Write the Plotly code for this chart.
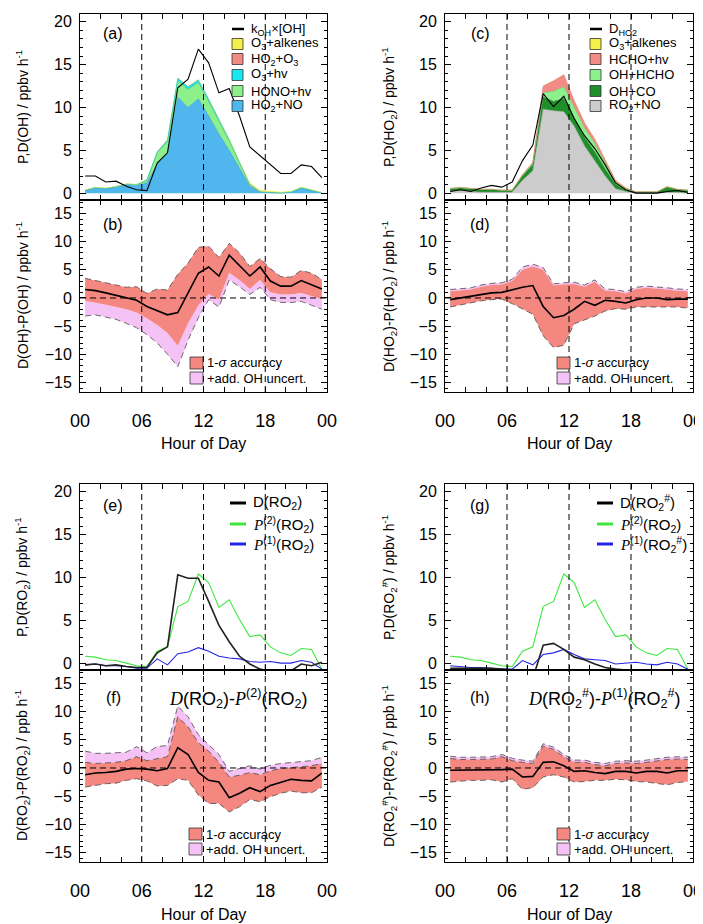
import plotly.graph_objects as go

# The page body has an 8 px margin, so the figure is drawn 8 px in from the
# top-left corner; geometry below is given in window pixels and converted.
OFF = 8
FW, FH = 703 - OFF, 924 - OFF

hours = [h + 0.5 for h in range(24)]
hour_ticks = [0, 6, 12, 18, 24]
hour_labels = ["00", "06", "12", "18", "00"]

# ---------------- (a) OH budget ----------------
a_kOH_OH = [2.0, 2.0, 1.3, 1.4, 0.8, 0.4, 0.3, 3.5, 4.7, 12.3, 13.3, 16.8,
            15.2, 11.7, 12.2, 9.0, 5.4, 4.4, 3.3, 2.3, 2.3, 3.3, 3.1, 1.8]
a_HO2_NO = [0.3, 0.6, 0.5, 0.7, 1.0, 0.9, 1.2, 3.4, 4.6, 11.2, 10.0, 11.0,
            9.0, 6.9, 5.0, 2.9, 0.8, 0.1, 0.05, 0.0, 0.1, 0.6, 0.3, 0.0]
a_HONO_hv = [0.05, 0.05, 0.05, 0.05, 0.05, 0.1, 0.3, 1.3, 1.4, 1.9, 2.1, 1.9,
             1.7, 1.5, 1.1, 0.6, 0.2, 0.05, 0.05, 0.05, 0.05, 0.05, 0.05, 0.05]
a_O3_hv = [0.0, 0.0, 0.0, 0.0, 0.0, 0.0, 0.05, 0.1, 0.2, 0.3, 0.3, 0.3,
           0.25, 0.2, 0.15, 0.1, 0.05, 0.02, 0.0, 0.0, 0.0, 0.0, 0.0, 0.0]
a_HO2_O3 = [0.02, 0.02, 0.02, 0.02, 0.02, 0.02, 0.03, 0.05, 0.05, 0.05, 0.05, 0.05,
            0.05, 0.05, 0.05, 0.05, 0.05, 0.05, 0.03, 0.02, 0.02, 0.02, 0.02, 0.02]
a_O3_alkenes = [0.05, 0.05, 0.05, 0.05, 0.05, 0.05, 0.05, 0.05, 0.05, 0.05, 0.05, 0.05,
                0.05, 0.05, 0.08, 0.1, 0.15, 0.15, 0.12, 0.08, 0.05, 0.05, 0.05, 0.05]

# ---------------- (c) HO2 budget ----------------
c_D_HO2 = [0.2, 0.4, 0.2, 0.6, 0.9, 0.7, 1.3, 3.8, 5.6, 11.6, 10.1, 11.3,
           8.7, 6.7, 5.2, 3.3, 1.2, 0.4, 0.0, 0.0, 0.0, 0.2, 0.3, 0.1]
c_RO2_NO = [0.2, 0.3, 0.2, 0.1, 0.1, 0.1, 0.1, 1.5, 2.6, 9.8, 9.6, 9.5,
            7.8, 5.5, 3.7, 2.0, 0.5, 0.2, 0.0, 0.0, 0.0, 0.1, 0.1, 0.0]
c_OH_CO = [0.3, 0.3, 0.3, 0.3, 0.3, 0.2, 0.2, 0.5, 0.7, 1.4, 1.1, 1.5,
           1.0, 1.0, 1.1, 0.8, 0.5, 0.1, 0.1, 0.1, 0.1, 0.6, 0.3, 0.3]
c_OH_HCHO = [0.05, 0.05, 0.05, 0.05, 0.05, 0.05, 0.05, 0.1, 0.2, 0.5, 1.2, 1.4,
             1.2, 1.1, 1.0, 0.7, 0.3, 0.2, 0.05, 0.05, 0.05, 0.05, 0.05, 0.05]
c_HCHO_hv = [0.0, 0.0, 0.0, 0.0, 0.0, 0.0, 0.0, 0.05, 0.1, 0.8, 1.2, 1.4,
             0.8, 0.6, 0.5, 0.3, 0.2, 0.1, 0.0, 0.0, 0.0, 0.0, 0.0, 0.0]
c_O3_alkenes = [0.03, 0.03, 0.03, 0.03, 0.03, 0.03, 0.03, 0.03, 0.03, 0.03, 0.03, 0.03,
                0.03, 0.03, 0.05, 0.05, 0.05, 0.05, 0.05, 0.03, 0.03, 0.03, 0.03, 0.03]

# ---------------- (b) D(OH)-P(OH) ----------------
b_diff = [1.5, 1.3, 0.9, 0.5, 0.0, -0.4, -1.5, -2.2, -3.0, -2.6, 0.9, 4.4,
          5.5, 3.9, 7.6, 5.8, 3.9, 5.5, 3.0, 2.1, 2.1, 3.1, 2.4, 1.6]
b_sig_hi = [3.5, 3.1, 2.7, 2.3, 1.9, 2.0, 0.8, 1.6, 1.4, 4.2, 6.2, 9.0,
            9.2, 7.2, 9.7, 8.0, 5.6, 7.0, 5.2, 3.8, 3.7, 4.9, 4.4, 3.3]
b_sig_lo = [-0.5, -0.8, -1.2, -1.6, -2.0, -2.6, -3.6, -4.8, -6.2, -8.5, -4.5, -1.3,
            0.7, -0.3, 4.5, 3.2, 1.6, 3.2, 1.0, 0.6, 0.6, 0.9, 0.3, -0.2]
b_ext_lo = [-3.2, -3.0, -3.4, -3.8, -4.5, -5.3, -6.5, -8.0, -10.0, -12.2, -7.5, -3.5,
            -0.3, -1.6, 3.2, 2.0, 0.6, 1.9, -0.3, -0.8, -0.8, -0.6, -1.3, -2.0]

# ---------------- (d) D(HO2)-P(HO2) ----------------
d_diff = [-0.3, 0.0, 0.2, 0.5, 0.9, 1.0, 1.5, 1.9, 2.2, -1.5, -3.5, -3.1,
          -2.0, -0.6, -1.3, -0.4, -0.6, -0.9, -0.3, 0.0, 0.0, -0.3, -0.2, -0.2]
d_sig_hi = [1.2, 1.4, 1.5, 2.0, 2.3, 2.4, 3.0, 5.0, 5.6, 5.0, 2.2, 2.4,
            2.5, 2.0, 2.9, 1.3, 1.2, 0.8, 1.6, 1.8, 1.7, 1.5, 1.3, 1.2]
d_ext_hi = [1.5, 1.7, 1.8, 2.3, 2.6, 2.7, 3.3, 5.5, 6.0, 5.4, 2.5, 2.7,
            2.8, 2.3, 3.2, 1.6, 1.5, 1.1, 1.9, 2.1, 2.0, 1.8, 1.6, 1.5]
d_sig_lo = [-1.6, -1.2, -0.8, -0.5, -0.3, -0.2, -1.0, -2.0, -2.9, -6.7, -8.8, -8.4,
            -4.6, -3.9, -3.2, -2.3, -1.9, -2.0, -1.6, -1.6, -1.6, -1.6, -1.6, -1.8]

# ---------------- (e) RO2 ----------------
e_D_RO2 = [-0.2, -0.1, -0.3, -0.2, -0.4, -0.5, -0.5, 1.2, 1.9, 10.3, 9.9, 9.9,
           7.2, 4.4, 2.5, 0.8, -0.1, -0.7, -1.0, -1.1, -0.9, -0.1, -0.3, 0.1]
e_P2_RO2 = [0.8, 0.7, 0.4, 0.3, 0.0, -0.3, -0.4, 1.4, 1.9, 6.6, 7.2, 10.4,
            9.4, 6.5, 7.4, 5.1, 3.1, 3.3, 1.9, 1.2, 0.9, 1.7, 1.6, -0.7]
e_P1_RO2 = [-0.2, -0.1, -0.3, -0.3, -0.4, -0.6, -0.6, 0.5, -0.2, 1.1, 1.3, 1.8,
            1.4, 0.8, 0.6, 0.5, 0.2, 0.1, 0.2, 0.0, 0.0, 0.3, 0.1, -0.7]

# ---------------- (g) RO2# ----------------
g_D_RO2s = [-0.6, -0.6, -0.6, -0.6, -0.6, -0.7, -0.8, -1.2, -1.8, 2.1, 2.3, 1.6,
            0.7, 0.4, -0.1, -0.5, -0.7, -0.8, -0.8, -0.8, -0.8, -0.8, -0.8, -0.8]
g_P2_RO2 = e_P2_RO2
g_P1_RO2s = [-0.3, -0.4, -0.5, -0.5, -0.6, -0.7, -0.7, 0.3, -0.2, 1.0, 1.2, 1.6,
             1.0, 0.5, 0.4, 0.3, -0.1, 0.0, 0.1, -0.1, -0.2, 0.1, -0.1, -0.7]

# ---------------- (f) D(RO2)-P2(RO2) ----------------
f_diff = [-1.2, -0.9, -0.8, -0.6, -0.2, -0.1, -0.2, -0.5, -0.1, 3.6, 2.4, -0.8,
          -2.2, -2.5, -5.3, -4.5, -3.5, -4.2, -3.1, -2.5, -2.0, -2.2, -2.3, -0.9]
f_sig_hi = [1.0, 0.8, 0.9, 1.0, 1.3, 2.0, 1.3, 1.7, 2.0, 9.1, 7.3, 4.5,
            3.0, 1.0, -1.6, -1.3, -0.8, -1.2, -0.5, -0.1, 0.1, 0.2, 0.4, 0.8]
f_ext_hi = [3.0, 2.6, 2.6, 2.7, 2.8, 3.8, 2.7, 3.8, 4.0, 11.0, 9.1, 5.9,
            4.2, 2.4, -0.6, -0.1, 0.4, -0.2, 0.5, 0.8, 1.0, 1.2, 1.3, 1.9]
f_sig_lo = [-3.4, -3.1, -2.8, -2.7, -2.2, -1.9, -2.3, -3.2, -3.1, -1.9, -2.2, -4.8,
            -6.3, -6.3, -7.8, -6.9, -5.6, -6.0, -5.1, -4.5, -4.1, -4.4, -4.4, -3.4]

# ---------------- (h) D(RO2#)-P1(RO2#) ----------------
h_diff = [-0.4, -0.4, -0.4, -0.4, -0.3, -0.3, -0.2, -1.6, -1.5, 1.0, 1.1, 0.4,
          -0.6, -0.5, -0.8, -1.0, -0.6, -0.6, -0.9, -0.6, -0.6, -0.9, -0.5, -0.5]
h_sig_hi = [1.7, 1.5, 1.5, 1.5, 1.6, 2.0, 1.3, 1.0, 0.8, 3.9, 3.3, 2.0,
            1.0, 1.0, 0.6, 0.4, 0.8, 0.9, 0.8, 1.0, 1.3, 1.5, 1.6, 1.5]
h_ext_hi = [2.1, 1.9, 1.9, 1.9, 2.0, 2.4, 1.7, 1.4, 1.2, 4.3, 3.7, 2.4,
            1.4, 1.4, 1.0, 0.8, 1.2, 1.3, 1.2, 1.4, 1.7, 1.9, 2.0, 1.9]
h_sig_lo = [-2.5, -2.3, -2.2, -2.2, -2.1, -2.5, -1.9, -3.8, -3.5, -1.6, -1.2, -1.6,
            -2.5, -2.4, -2.2, -2.2, -2.0, -2.1, -2.4, -2.5, -2.8, -3.0, -2.6, -2.4]

# ---------------- styling ----------------
FONT = "Liberation Sans, Arial, Helvetica, sans-serif"
C_SALMON = "#f4877f"
C_PINK = "#f5c2f5"
C_EDGE = "#4a4a4a"
DASH = "6px,4px"


def px(x):
    return (x - OFF) / FW


def py(y):
    return 1 - (y - OFF) / FH


COLS = [(80, 327), (445, 693)]
ROWS = [(14, 200), (200, 392), (484, 670), (670, 862)]

# panel index: 1=(a) 2=(c) 3=(b) 4=(d) 5=(e) 6=(g) 7=(f) 8=(h)
panels = {}
k = 1
for r in range(4):
    for c in range(2):
        panels[k] = (r, c)
        k += 1

fig = go.Figure()


def axnames(i):
    s = "" if i == 1 else str(i)
    return "x" + s, "y" + s


def add_line(i, y, color, width=1.0, dash=None):
    xa, ya = axnames(i)
    fig.add_trace(go.Scatter(x=hours, y=y, mode="lines", xaxis=xa, yaxis=ya,
                             line=dict(color=color, width=width, dash=dash),
                             showlegend=False, hoverinfo="skip"))


def add_fill_between(i, lo, hi, color):
    xa, ya = axnames(i)
    fig.add_trace(go.Scatter(x=hours, y=lo, mode="lines", xaxis=xa, yaxis=ya,
                             line=dict(width=0), showlegend=False, hoverinfo="skip"))
    fig.add_trace(go.Scatter(x=hours, y=hi, mode="lines", xaxis=xa, yaxis=ya,
                             fill="tonexty", fillcolor=color, line=dict(width=0),
                             showlegend=False, hoverinfo="skip"))


def add_stack(i, comps, group):
    xa, ya = axnames(i)
    for vals, fillc, edge, ew in comps:
        fig.add_trace(go.Scatter(x=hours, y=vals, mode="lines", xaxis=xa, yaxis=ya,
                                 stackgroup=group, fillcolor=fillc,
                                 line=dict(color=edge, width=ew),
                                 showlegend=False, hoverinfo="skip"))


# (a)
add_stack(1, [(a_HO2_NO, "#4fb6ee", "#2f95d6", 0.6),
              (a_HONO_hv, "#8df08a", "#5cc85a", 0.6),
              (a_O3_hv, "#19e6ee", "#12c4cc", 0.6),
              (a_HO2_O3, "#f28b85", "#f28b85", 0),
              (a_O3_alkenes, "#f4f04a", "#f4f04a", 0)], "a")
add_line(1, a_kOH_OH, "black", 1.1)

# (c)
add_stack(2, [(c_RO2_NO, "#cccccc", "#aaaaaa", 0.6),
              (c_OH_CO, "#1f8f2a", "#16661e", 0.6),
              (c_OH_HCHO, "#8cf08c", "#66cc66", 0.6),
              (c_HCHO_hv, "#f28b85", "#e07a74", 0.6),
              (c_O3_alkenes, "#f4f04a", "#f4f04a", 0)], "c")
add_line(2, c_D_HO2, "black", 1.1)

# (b)
add_fill_between(3, b_ext_lo, b_sig_lo, C_PINK)
add_fill_between(3, b_sig_lo, b_sig_hi, C_SALMON)
add_line(3, b_ext_lo, C_EDGE, 0.8, DASH)
add_line(3, b_sig_hi, C_EDGE, 0.8, DASH)
add_line(3, b_diff, "black", 1.6)

# (d)
add_fill_between(4, d_sig_hi, d_ext_hi, C_PINK)
add_fill_between(4, d_sig_lo, d_sig_hi, C_SALMON)
add_line(4, d_ext_hi, C_EDGE, 0.8, DASH)
add_line(4, d_sig_lo, C_EDGE, 0.8, DASH)
add_line(4, d_diff, "black", 1.6)

# (e)
add_line(5, e_P2_RO2, "#3ee83e", 1.1)
add_line(5, e_P1_RO2, "#2424e6", 1.1)
add_line(5, e_D_RO2, "#222222", 1.6)

# (g)
add_line(6, g_P2_RO2, "#3ee83e", 1.1)
add_line(6, g_P1_RO2s, "#2424e6", 1.1)
add_line(6, g_D_RO2s, "#222222", 1.6)

# (f)
add_fill_between(7, f_sig_hi, f_ext_hi, C_PINK)
add_fill_between(7, f_sig_lo, f_sig_hi, C_SALMON)
add_line(7, f_ext_hi, C_EDGE, 0.8, DASH)
add_line(7, f_sig_hi, C_EDGE, 0.8, DASH)
add_line(7, f_sig_lo, C_EDGE, 0.8, DASH)
add_line(7, f_diff, "black", 1.6)

# (h)
add_fill_between(8, h_sig_hi, h_ext_hi, C_PINK)
add_fill_between(8, h_sig_lo, h_sig_hi, C_SALMON)
add_line(8, h_ext_hi, C_EDGE, 0.8, DASH)
add_line(8, h_sig_hi, C_EDGE, 0.8, DASH)
add_line(8, h_sig_lo, C_EDGE, 0.8, DASH)
add_line(8, h_diff, "black", 1.6)

# ---------------- axes ----------------
layout = dict(width=FW, height=FH, margin=dict(l=0, r=0, t=0, b=0, autoexpand=False),
              paper_bgcolor="white", plot_bgcolor="white",
              font=dict(family=FONT, color="black", size=14), showlegend=False)

TOP_RANGE = [-0.8, 20.9]
BOT_RANGE = [-16.7, 17.4]

for i, (r, c) in panels.items():
    s = "" if i == 1 else str(i)
    xa, ya = axnames(i)
    x0, x1 = COLS[c]
    yt, yb = ROWS[r]
    bottom_row = r in (1, 3)
    layout["xaxis" + s] = dict(
        domain=[px(x0), px(x1)], anchor=ya, range=[0, 24], automargin=False,
        tickmode="array", tickvals=hour_ticks, ticktext=hour_labels,
        ticks="inside", ticklen=5, tickwidth=1, tickcolor="black",
        minor=dict(dtick=2, tick0=0, ticks="inside", ticklen=5, tickcolor="black",
                   showgrid=False),
        showline=True, linecolor="black", linewidth=1, mirror="ticks",
        showgrid=False, zeroline=False, showticklabels=bottom_row,
        ticklabeloverflow="allow",
        ticklabelstandoff=12, tickfont=dict(size=18, family=FONT, color="black"))
    top_panel = r in (0, 2)
    layout["yaxis" + s] = dict(
        domain=[py(yb), py(yt)], anchor=xa, automargin=False,
        range=TOP_RANGE if top_panel else BOT_RANGE,
        tickmode="array",
        tickvals=[0, 5, 10, 15, 20] if top_panel else [-15, -10, -5, 0, 5, 10, 15],
        ticks="inside", ticklen=6, tickwidth=1, tickcolor="black",
        minor=dict(dtick=1, ticks="inside", ticklen=3, tickcolor="black", showgrid=False),
        showline=True, linecolor="black", linewidth=1, mirror="ticks",
        showgrid=False, zeroline=False, ticklabelstandoff=4,
        ticklabeloverflow="allow",
        tickfont=dict(size=16, family=FONT, color="black"))

fig.update_layout(**layout)

# ---------------- reference lines ----------------
shapes = []
for i, (r, c) in panels.items():
    xa, ya = axnames(i)
    for hv in hour_ticks[1:-1]:
        shapes.append(dict(type="line", xref=xa, yref=ya + " domain", x0=hv, x1=hv,
                           y0=0, y1=1, line=dict(color="black", width=1, dash=DASH),
                           layer="above"))
    if r in (1, 3):
        shapes.append(dict(type="line", xref=xa + " domain", yref=ya, x0=0, x1=1,
                           y0=0, y1=0, line=dict(color="black", width=1, dash=DASH),
                           layer="above"))

annotations = []


def text(x, y, t, size=14, anchor="left", family=FONT, angle=0):
    annotations.append(dict(x=px(x), y=py(y), xref="paper", yref="paper", text=t,
                            showarrow=False, xanchor=anchor, yanchor="middle",
                            textangle=angle,
                            font=dict(size=size, family=family, color="black")))


def swatch_box(x0, x1, yc, half, color, edge="#333333"):
    shapes.append(dict(type="rect", xref="paper", yref="paper", x0=px(x0), x1=px(x1),
                       y0=py(yc + half), y1=py(yc - half), fillcolor=color,
                       line=dict(color=edge, width=0.8), layer="above"))


def swatch_line(x0, x1, yc, color, width=2.5):
    shapes.append(dict(type="line", xref="paper", yref="paper", x0=px(x0), x1=px(x1),
                       y0=py(yc), y1=py(yc), line=dict(color=color, width=width),
                       layer="above"))


# panel labels
for lab, x, y in [("(a)", 113, 33), ("(c)", 480, 33), ("(b)", 113, 225), ("(d)", 480, 225),
                  ("(e)", 113, 505), ("(g)", 480, 505), ("(f)", 113, 697), ("(h)", 480, 697)]:
    text(x, y, lab, size=16, anchor="center")

# legend (a)
rows_a = [29, 44, 59, 75, 91, 106]
swatch_line(232, 244, rows_a[0], "black")
for yc, col in zip(rows_a[1:], ["#f4f04a", "#f28b85", "#19e6ee", "#8df08a", "#4fb6ee"]):
    swatch_box(232, 243, yc, 5.5, col)
for yc, t in zip(rows_a, ["k<sub>OH</sub>×[OH]", "O<sub>3</sub>+alkenes",
                          "HO<sub>2</sub>+O<sub>3</sub>", "O<sub>3</sub>+hv", "HONO+hv",
                          "HO<sub>2</sub>+NO"]):
    text(249, yc, t, size=13)

# legend (c)
swatch_line(590, 602, rows_a[0], "black")
for yc, col in zip(rows_a[1:], ["#f4f04a", "#f28b85", "#8cf08c", "#1f8f2a", "#cccccc"]):
    swatch_box(590, 601, yc, 5.5, col)
for yc, t in zip(rows_a, ["D<sub>HO2</sub>", "O<sub>3</sub>+alkenes", "HCHO+hv",
                          "OH+HCHO", "OH+CO", "RO<sub>2</sub>+NO"]):
    text(607, yc, t, size=13)

# legends (b),(d),(f),(h)
for xs, ys in [(190, 363), (557, 363), (189, 834), (557, 834)]:
    swatch_box(xs, xs + 13, ys, 6, C_SALMON)
    swatch_box(xs, xs + 13, ys + 15, 6, C_PINK)
    text(xs + 15, ys, "1-<i>σ</i> accuracy", size=13)
    text(xs + 15, ys + 15, "+add. OH uncert.", size=13)

# legends (e),(g)
P = "<span style=\"font-family:'Liberation Serif'\"><i>P</i></span>"
Dd = "<span style=\"font-family:'Liberation Serif'\"><i>D</i></span>"
rows_e = [503, 524, 544]
for x0, texts in [(230, ["D(RO<sub>2</sub>)", P + "<sup>(2)</sup>(RO<sub>2</sub>)",
                         P + "<sup>(1)</sup>(RO<sub>2</sub>)"]),
                  (597, ["D(RO<sub>2</sub><sup>#</sup>)", P + "<sup>(2)</sup>(RO<sub>2</sub>)",
                         P + "<sup>(1)</sup>(RO<sub>2</sub><sup>#</sup>)"])]:
    for yc, col, t in zip(rows_e, ["black", "#3ee83e", "#2424e6"], texts):
        swatch_line(x0, x0 + 16, yc, col, 3)
        text(x0 + 21, yc, t, size=15)

# formula annotations (f),(h)
text(309, 698, Dd + "(RO<sub>2</sub>)-" + P + "<sup>(2)</sup>(RO<sub>2</sub>)",
     size=18, anchor="right")
text(682, 698, Dd + "(RO<sub>2</sub><sup>#</sup>)-" + P +
     "<sup>(1)</sup>(RO<sub>2</sub><sup>#</sup>)", size=18, anchor="right")

# y-axis titles
ytitles = {
    1: "P,D(OH) / ppbv h<sup>-1</sup>",
    3: "D(OH)-P(OH) / ppbv h<sup>-1</sup>",
    2: "P,D(HO<sub>2</sub>) / ppbv h<sup>-1</sup>",
    4: "D(HO<sub>2</sub>)-P(HO<sub>2</sub>) / ppb h<sup>-1</sup>",
    5: "P,D(RO<sub>2</sub>) / ppbv h<sup>-1</sup>",
    7: "D(RO<sub>2</sub>)-P(RO<sub>2</sub>) / ppb h<sup>-1</sup>",
    6: "P,D(RO<sub>2</sub><sup>#</sup>) / ppbv h<sup>-1</sup>",
    8: "D(RO<sub>2</sub><sup>#</sup>)-P(RO<sub>2</sub><sup>#</sup>) / ppb h<sup>-1</sup>",
}
for i, t in ytitles.items():
    r, c = panels[i]
    yt, yb = ROWS[r]
    text(22 if c == 0 else 389, (yt + yb) / 2, t, size=14, anchor="center", angle=-90)

# x-axis titles
for yc in (443, 914):
    for c in range(2):
        text(sum(COLS[c]) / 2, yc, "Hour of Day", size=16, anchor="center")

fig.update_layout(shapes=shapes, annotations=annotations)
fig.write_html("out.html")
